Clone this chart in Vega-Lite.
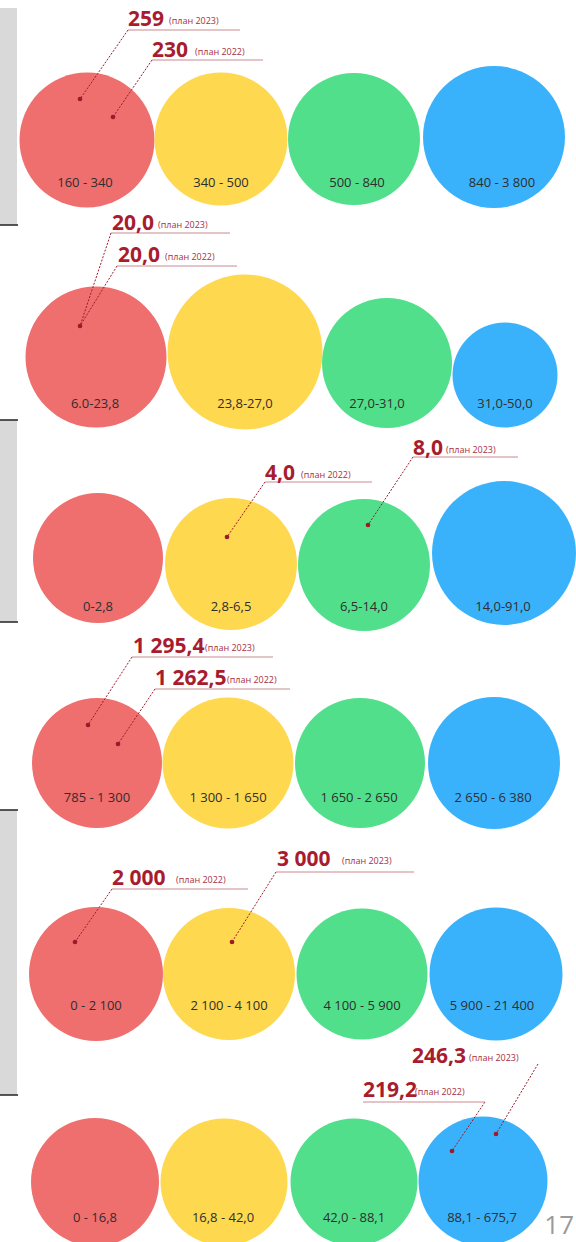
{
  "$schema": "https://vega.github.io/schema/vega-lite/v6.json",
  "width": 576,
  "height": 1242,
  "autosize": {"type": "none"},
  "padding": 0,
  "background": "#ffffff",
  "config": {"view": {"stroke": null}},
  "encoding": {
    "x": {"field": "x", "type": "quantitative", "scale": {"domain": [0, 576], "nice": false, "zero": false}, "axis": null},
    "y": {"field": "y", "type": "quantitative", "scale": {"domain": [0, 1242], "nice": false, "zero": false, "reverse": true}, "axis": null}
  },
  "layer": [
    {
      "data": {"values": [
        {"x": 0, "x2": 17, "y": 8, "y2": 225},
        {"x": 0, "x2": 17, "y": 420, "y2": 622},
        {"x": 0, "x2": 17, "y": 810, "y2": 1095}
      ]},
      "mark": {"type": "rect", "color": "#d9d9d9"},
      "encoding": {"x2": {"field": "x2"}, "y2": {"field": "y2"}}
    },
    {
      "data": {"values": [
        {"x": 0, "x2": 18, "y": 225},
        {"x": 0, "x2": 18, "y": 420},
        {"x": 0, "x2": 18, "y": 622},
        {"x": 0, "x2": 18, "y": 810},
        {"x": 0, "x2": 18, "y": 1095}
      ]},
      "mark": {"type": "rule", "color": "#222222", "strokeWidth": 1.5},
      "encoding": {"x2": {"field": "x2"}}
    },
    {
      "data": {"values": [
        {"row": 1, "cat": "red", "x": 87, "y": 140, "d": 135},
        {"row": 1, "cat": "yellow", "x": 221, "y": 139, "d": 133},
        {"row": 1, "cat": "green", "x": 354, "y": 139, "d": 132},
        {"row": 1, "cat": "blue", "x": 494, "y": 137, "d": 142},
        {"row": 2, "cat": "red", "x": 96, "y": 357, "d": 141},
        {"row": 2, "cat": "yellow", "x": 245, "y": 352, "d": 155},
        {"row": 2, "cat": "green", "x": 387, "y": 363, "d": 130},
        {"row": 2, "cat": "blue", "x": 505, "y": 375, "d": 105},
        {"row": 3, "cat": "red", "x": 98, "y": 558, "d": 130},
        {"row": 3, "cat": "yellow", "x": 231, "y": 564, "d": 132},
        {"row": 3, "cat": "green", "x": 364, "y": 565, "d": 132},
        {"row": 3, "cat": "blue", "x": 504, "y": 553, "d": 144},
        {"row": 4, "cat": "red", "x": 97, "y": 763, "d": 130},
        {"row": 4, "cat": "yellow", "x": 228, "y": 763, "d": 131},
        {"row": 4, "cat": "green", "x": 360, "y": 763, "d": 130},
        {"row": 4, "cat": "blue", "x": 494, "y": 763, "d": 132},
        {"row": 5, "cat": "red", "x": 96, "y": 974, "d": 134},
        {"row": 5, "cat": "yellow", "x": 229, "y": 974, "d": 132},
        {"row": 5, "cat": "green", "x": 362, "y": 974, "d": 131},
        {"row": 5, "cat": "blue", "x": 496, "y": 974, "d": 133},
        {"row": 6, "cat": "red", "x": 95, "y": 1182, "d": 128},
        {"row": 6, "cat": "yellow", "x": 224, "y": 1182, "d": 127},
        {"row": 6, "cat": "green", "x": 354, "y": 1182, "d": 127},
        {"row": 6, "cat": "blue", "x": 483, "y": 1181, "d": 129}
      ]},
      "mark": {"type": "circle", "opacity": 1, "strokeWidth": 0},
      "encoding": {
        "color": {"field": "cat", "type": "nominal", "legend": null,
          "scale": {"domain": ["red", "yellow", "green", "blue"], "range": ["#ef6e6e", "#fed84f", "#52df8b", "#3ab2fb"]}},
        "size": {"field": "d", "type": "quantitative", "legend": null,
          "scale": {"type": "pow", "exponent": 2, "domain": [0, 200], "range": [0, 40000], "zero": true}}
      }
    },
    {
      "data": {"values": [
        {"x": 85, "y": 183, "label": "160 - 340"},
        {"x": 221, "y": 183, "label": "340 - 500"},
        {"x": 357, "y": 183, "label": "500 - 840"},
        {"x": 502, "y": 183, "label": "840 - 3 800"},
        {"x": 95, "y": 404, "label": "6.0-23,8"},
        {"x": 245, "y": 404, "label": "23,8-27,0"},
        {"x": 377, "y": 404, "label": "27,0-31,0"},
        {"x": 505, "y": 404, "label": "31,0-50,0"},
        {"x": 98, "y": 607, "label": "0-2,8"},
        {"x": 231, "y": 607, "label": "2,8-6,5"},
        {"x": 364, "y": 607, "label": "6,5-14,0"},
        {"x": 503, "y": 607, "label": "14,0-91,0"},
        {"x": 97, "y": 798, "label": "785 - 1 300"},
        {"x": 228, "y": 798, "label": "1 300 - 1 650"},
        {"x": 359, "y": 798, "label": "1 650 - 2 650"},
        {"x": 493, "y": 798, "label": "2 650 - 6 380"},
        {"x": 96, "y": 1006, "label": "0 - 2 100"},
        {"x": 229, "y": 1006, "label": "2 100 - 4 100"},
        {"x": 362, "y": 1006, "label": "4 100 - 5 900"},
        {"x": 492, "y": 1006, "label": "5 900 - 21 400"},
        {"x": 95, "y": 1218, "label": "0 - 16,8"},
        {"x": 223, "y": 1218, "label": "16,8 - 42,0"},
        {"x": 354, "y": 1218, "label": "42,0 - 88,1"},
        {"x": 482, "y": 1218, "label": "88,1 - 675,7"}
      ]},
      "mark": {"type": "text", "font": "Open Sans", "fontSize": 13, "color": "#2e2e2e", "align": "center", "baseline": "middle"},
      "encoding": {"text": {"field": "label"}}
    },
    {
      "data": {"values": [
        {"x": 128, "y": 30, "x2": 80, "y2": 99},
        {"x": 152, "y": 60, "x2": 113, "y2": 117},
        {"x": 111, "y": 233, "x2": 80, "y2": 326},
        {"x": 117, "y": 266, "x2": 80, "y2": 326},
        {"x": 265, "y": 482, "x2": 227, "y2": 537},
        {"x": 413, "y": 457, "x2": 368, "y2": 525},
        {"x": 132, "y": 657, "x2": 88, "y2": 725},
        {"x": 155, "y": 689, "x2": 118, "y2": 744},
        {"x": 112, "y": 889, "x2": 75, "y2": 942},
        {"x": 276, "y": 872, "x2": 232, "y2": 942},
        {"x": 538, "y": 1064, "x2": 496, "y2": 1134},
        {"x": 485, "y": 1102, "x2": 452, "y2": 1151}
      ]},
      "mark": {"type": "rule", "color": "#9e1a2b", "strokeWidth": 1, "strokeDash": [2, 1.5]},
      "encoding": {"x2": {"field": "x2"}, "y2": {"field": "y2"}}
    },
    {
      "data": {"values": [
        {"x": 128, "x2": 240, "y": 30},
        {"x": 152, "x2": 263, "y": 60},
        {"x": 111, "x2": 230, "y": 233},
        {"x": 117, "x2": 237, "y": 266},
        {"x": 265, "x2": 372, "y": 482},
        {"x": 413, "x2": 518, "y": 457},
        {"x": 132, "x2": 273, "y": 657},
        {"x": 155, "x2": 290, "y": 689},
        {"x": 112, "x2": 248, "y": 889},
        {"x": 276, "x2": 414, "y": 872},
        {"x": 363, "x2": 485, "y": 1102}
      ]},
      "mark": {"type": "rule", "color": "#c98a8f", "strokeWidth": 1},
      "encoding": {"x2": {"field": "x2"}}
    },
    {
      "data": {"values": [
        {"x": 80, "y": 99}, {"x": 113, "y": 117},
        {"x": 80, "y": 326},
        {"x": 227, "y": 537}, {"x": 368, "y": 525},
        {"x": 88, "y": 725}, {"x": 118, "y": 744},
        {"x": 75, "y": 942}, {"x": 232, "y": 942},
        {"x": 496, "y": 1134}, {"x": 452, "y": 1151}
      ]},
      "mark": {"type": "circle", "color": "#9e1a2b", "opacity": 1, "size": 22}
    },
    {
      "data": {"values": [
        {"x": 128, "y": 26, "num": "259"},
        {"x": 152, "y": 57, "num": "230"},
        {"x": 112, "y": 230, "num": "20,0"},
        {"x": 118, "y": 262, "num": "20,0"},
        {"x": 265, "y": 480, "num": "4,0"},
        {"x": 413, "y": 455, "num": "8,0"},
        {"x": 133, "y": 653, "num": "1 295,4"},
        {"x": 155, "y": 685, "num": "1 262,5"},
        {"x": 112, "y": 885, "num": "2 000"},
        {"x": 277, "y": 866, "num": "3 000"},
        {"x": 412, "y": 1063, "num": "246,3"},
        {"x": 363, "y": 1097, "num": "219,2"}
      ]},
      "mark": {"type": "text", "font": "Open Sans", "fontSize": 21, "fontWeight": "bold", "color": "#a81c2e", "align": "left", "baseline": "alphabetic"},
      "encoding": {"text": {"field": "num"}}
    },
    {
      "data": {"values": [
        {"x": 169, "y": 24, "note": "(план 2023)"},
        {"x": 195, "y": 55, "note": "(план 2022)"},
        {"x": 158, "y": 228, "note": "(план 2023)"},
        {"x": 165, "y": 260, "note": "(план 2022)"},
        {"x": 301, "y": 478, "note": "(план 2022)"},
        {"x": 446, "y": 453, "note": "(план 2023)"},
        {"x": 205, "y": 651, "note": "(план 2023)"},
        {"x": 227, "y": 683, "note": "(план 2022)"},
        {"x": 176, "y": 883, "note": "(план 2022)"},
        {"x": 342, "y": 864, "note": "(план 2023)"},
        {"x": 469, "y": 1061, "note": "(план 2023)"},
        {"x": 415, "y": 1095, "note": "(план 2022)"}
      ]},
      "mark": {"type": "text", "font": "Open Sans", "fontSize": 9, "color": "#a83040", "align": "left", "baseline": "alphabetic"},
      "encoding": {"text": {"field": "note"}}
    },
    {
      "data": {"values": [{"x": 574, "y": 1234, "page": "17"}]},
      "mark": {"type": "text", "font": "Open Sans", "fontSize": 26, "color": "#9a9a9a", "align": "right", "baseline": "alphabetic"},
      "encoding": {"text": {"field": "page"}}
    }
  ]
}
